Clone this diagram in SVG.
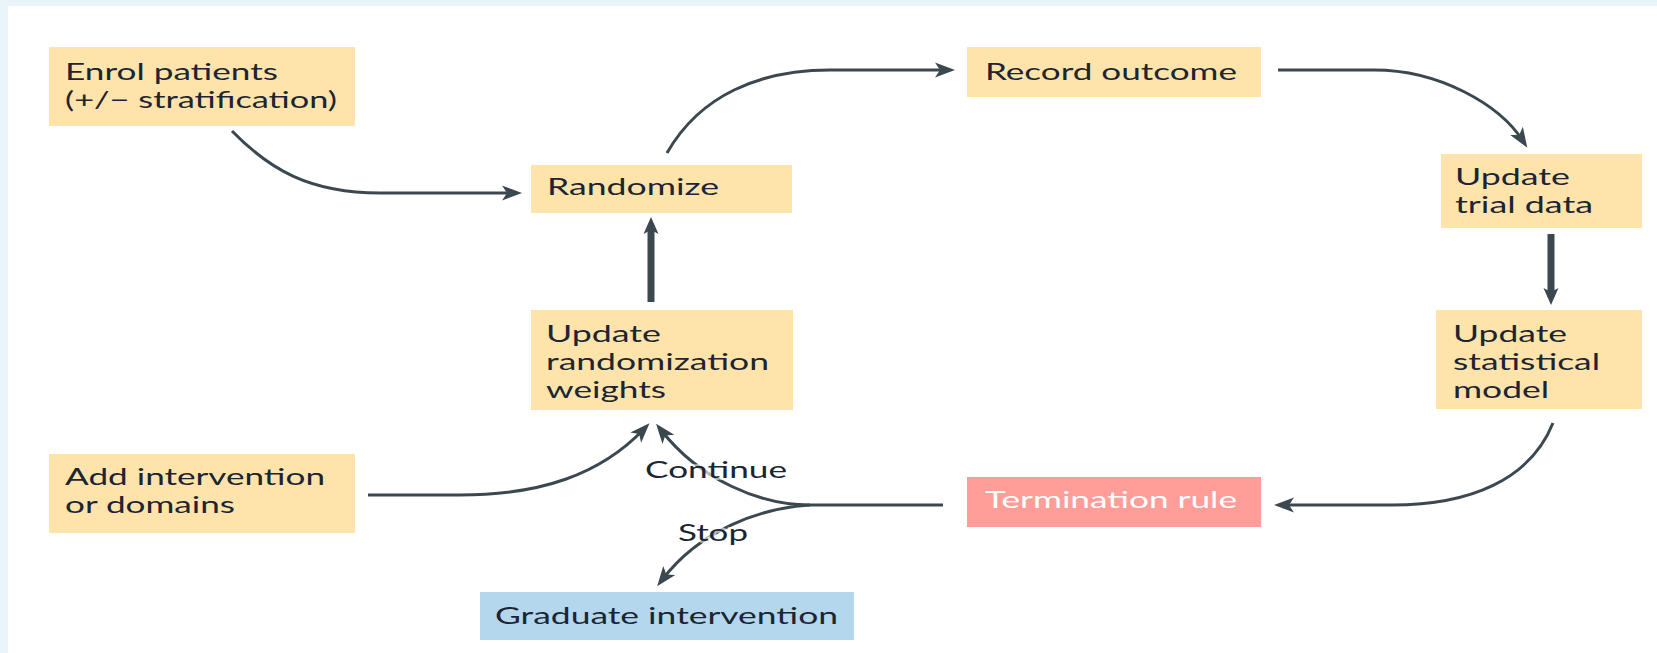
<svg xmlns="http://www.w3.org/2000/svg" width="1657" height="653" viewBox="0 0 1657 653">
  <style>
    .box { fill: #fee4aa; }
    .stop-box { fill: #ff9e98; }
    .grad-box { fill: #b4d7ee; }
    .lbl { font-family: "Lato", "Open Sans", sans-serif; font-size: 23px; fill: #1c2533; }
    .lbl-w { font-family: "Lato", "Open Sans", sans-serif; font-size: 23px; fill: #ffffff; }
    .edge-lbl { font-family: "Lato", "Open Sans", sans-serif; font-size: 23px; fill: #1c2533;
                stroke: #ffffff; stroke-width: 4; stroke-opacity: 0.6; paint-order: stroke; }
    .wire { fill: none; stroke: #3b4850; stroke-width: 3; }
    .wire-thick { fill: none; stroke: #3b4850; stroke-width: 7; }
  </style>
  <defs>
    <marker id="ah" markerUnits="userSpaceOnUse" viewBox="-14 -10 24 20" refX="0" refY="0"
            markerWidth="24" markerHeight="20" orient="auto" overflow="visible">
      <path d="M8,0 L-12,-7.5 L-7,0 L-12,7.5 Z" fill="#3b4850"/>
    </marker>
    <marker id="ah-thick" markerUnits="userSpaceOnUse" viewBox="-14 -10 24 20" refX="0" refY="0"
            markerWidth="24" markerHeight="20" orient="auto" overflow="visible">
      <path d="M8,0 L-9,-7.5 L-5,0 L-9,7.5 Z" fill="#3b4850"/>
    </marker>
  </defs>

  <!-- page -->
  <rect x="0" y="0" width="1657" height="653" fill="#ffffff"/>
  <rect x="0" y="0" width="1657" height="6" fill="#eaf5fa"/>
  <rect x="0" y="0" width="8" height="653" fill="#eaf5fa"/>

  <!-- connectors -->
  <g id="connectors">
    <path class="wire" d="M232,131 C270,170 310,193 380,193 L514,193" marker-end="url(#ah)"/>
    <path class="wire" d="M667,153 C700,95 760,70 830,70 L947,70" marker-end="url(#ah)"/>
    <path class="wire" d="M1278,70 L1374,70 C1440,70 1500,105 1523,141" marker-end="url(#ah)"/>
    <path class="wire-thick" d="M1551,234 L1551,297" marker-end="url(#ah-thick)"/>
    <path class="wire" d="M1553,423 C1530,480 1470,505 1392,505 L1282,505" marker-end="url(#ah)"/>
    <path class="wire" d="M943,505 L810,505"/>
    <path class="wire" d="M810,505 C760,505 700,480 661,430" marker-end="url(#ah)"/>
    <path class="wire" d="M810,505 C760,508 700,530 662,580" marker-end="url(#ah)"/>
    <path class="wire" d="M368,495 L460,495 C540,495 600,475 644,429" marker-end="url(#ah)"/>
    <path class="wire-thick" d="M651,302 L651,225" marker-end="url(#ah-thick)"/>
  </g>

  <!-- nodes -->
  <g id="enrol">
    <rect class="box" x="49" y="47" width="306" height="79"/>
    <text class="lbl" x="65" y="80" textLength="213" lengthAdjust="spacingAndGlyphs">Enrol patients</text>
    <text class="lbl" x="65" y="108" textLength="272" lengthAdjust="spacingAndGlyphs">(+/− stratification)</text>
  </g>
  <g id="randomize">
    <rect class="box" x="531" y="165" width="261" height="48"/>
    <text class="lbl" x="547" y="195" textLength="172" lengthAdjust="spacingAndGlyphs">Randomize</text>
  </g>
  <g id="record">
    <rect class="box" x="967" y="47" width="294" height="50"/>
    <text class="lbl" x="985" y="80" textLength="252" lengthAdjust="spacingAndGlyphs">Record outcome</text>
  </g>
  <g id="trial-data">
    <rect class="box" x="1441" y="154" width="201" height="74"/>
    <text class="lbl" x="1455" y="185" textLength="115" lengthAdjust="spacingAndGlyphs">Update</text>
    <text class="lbl" x="1455" y="213" textLength="138" lengthAdjust="spacingAndGlyphs">trial data</text>
  </g>
  <g id="stat-model">
    <rect class="box" x="1436" y="310" width="206" height="99"/>
    <text class="lbl" x="1453" y="342" textLength="114" lengthAdjust="spacingAndGlyphs">Update</text>
    <text class="lbl" x="1453" y="370" textLength="147" lengthAdjust="spacingAndGlyphs">statistical</text>
    <text class="lbl" x="1453" y="398" textLength="96" lengthAdjust="spacingAndGlyphs">model</text>
  </g>
  <g id="rand-weights">
    <rect class="box" x="531" y="310" width="262" height="100"/>
    <text class="lbl" x="546" y="342" textLength="115" lengthAdjust="spacingAndGlyphs">Update</text>
    <text class="lbl" x="546" y="370" textLength="223" lengthAdjust="spacingAndGlyphs">randomization</text>
    <text class="lbl" x="546" y="398" textLength="120" lengthAdjust="spacingAndGlyphs">weights</text>
  </g>
  <g id="add-intervention">
    <rect class="box" x="49" y="454" width="306" height="79"/>
    <text class="lbl" x="65" y="485" textLength="260" lengthAdjust="spacingAndGlyphs">Add intervention</text>
    <text class="lbl" x="65" y="513" textLength="170" lengthAdjust="spacingAndGlyphs">or domains</text>
  </g>
  <g id="termination">
    <rect class="stop-box" x="967" y="477" width="294" height="50"/>
    <text class="lbl-w" x="985" y="508" textLength="252" lengthAdjust="spacingAndGlyphs">Termination rule</text>
  </g>
  <g id="graduate">
    <rect class="grad-box" x="480" y="592" width="374" height="48"/>
    <text class="lbl" x="495" y="624" textLength="343" lengthAdjust="spacingAndGlyphs">Graduate intervention</text>
  </g>

  <!-- branch labels -->
  <g id="branch-labels">
    <text class="edge-lbl" x="645" y="478" textLength="142" lengthAdjust="spacingAndGlyphs">Continue</text>
    <text class="edge-lbl" x="678" y="541" textLength="70" lengthAdjust="spacingAndGlyphs">Stop</text>
  </g>
</svg>
